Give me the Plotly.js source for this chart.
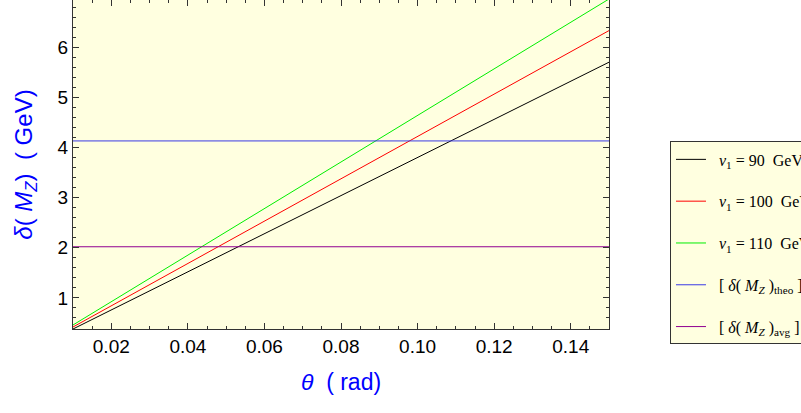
<!DOCTYPE html>
<html>
<head>
<meta charset="utf-8">
<script src="https://cdn.plot.ly/plotly-3.0.1.min.js"></script>
<style>html,body{margin:0;padding:0;background:#fff;}#chart{width:801px;height:413px;}</style>
</head>
<body>
<div id="chart"></div>
<script>
// Data
const theta = [0.01, 0.15];
const v90 = [0.38, 5.70];
const v100 = [0.42, 6.33];
const v110 = [0.46, 6.96];
const dMzTheo = [4.13, 4.13];
const dMzAvg = [2.02, 2.02];
const seriesNames = [
  '&nbsp;&nbsp;<i>v</i><sub>1</sub>&nbsp;=&nbsp;90&nbsp;&nbsp;GeV',
  '&nbsp;&nbsp;<i>v</i><sub>1</sub>&nbsp;=&nbsp;100&nbsp;&nbsp;GeV',
  '&nbsp;&nbsp;<i>v</i><sub>1</sub>&nbsp;=&nbsp;110&nbsp;&nbsp;GeV',
  '&nbsp;&nbsp;[&nbsp;<i>δ</i>(&nbsp;<i>M</i><sub><i>Z</i></sub>&nbsp;)<sub>theo</sub>&nbsp;]',
  '&nbsp;&nbsp;[&nbsp;<i>δ</i>(&nbsp;<i>M</i><sub><i>Z</i></sub>&nbsp;)<sub>avg</sub>&nbsp;]'
];
const seriesY = [v90, v100, v110, dMzTheo, dMzAvg];
const colors = ['#000000', '#ff0000', '#00ee00', '#3a3ae6', '#900090'];

const traces = seriesY.map((y, i) => ({
  x: theta, y: y, mode: 'lines', type: 'scatter',
  name: seriesNames[i], legendgroup: 'g' + i,
  line: {color: colors[i], width: 1}
}));

const axisCommon = {
  showgrid: false, zeroline: false,
  showline: true, linecolor: '#333', linewidth: 1, mirror: 'ticks',
  ticks: 'inside', ticklen: 6, tickcolor: '#333', tickwidth: 1,
  tickfont: {family: 'Liberation Sans, Arial, sans-serif', size: 19, color: '#000'}
};

const layout = {
  width: 801, height: 413,
  margin: {l: 73, r: 192, t: 0, b: 84, autoexpand: false},
  paper_bgcolor: '#ffffff', plot_bgcolor: '#ffffe0',
  showlegend: true,
  xaxis: Object.assign({}, axisCommon, {
    range: [0.01, 0.15], dtick: 0.02, tick0: 0, tickformat: '.2f',
    minor: {dtick: 0.005, ticks: 'inside', ticklen: 3, tickcolor: '#333'},
    title: {text: '<i>θ</i>&nbsp;&nbsp;( rad)', font: {family: 'Liberation Sans, Arial, sans-serif', size: 23, color: '#0000ff'}, standoff: 18}
  }),
  yaxis: Object.assign({}, axisCommon, {
    range: [0.38, 6.94], dtick: 1, tick0: 0,
    minor: {dtick: 0.2, ticks: 'inside', ticklen: 3, tickcolor: '#333'},
    title: {text: '<i>δ</i>(&nbsp;<i>M</i><sub><i>Z</i></sub>)&nbsp;&nbsp;( GeV)', font: {family: 'Liberation Sans, Arial, sans-serif', size: 24, color: '#0000ff'}, standoff: 18}
  }),
  legend: {
    x: 1.1138, y: 0.57, xanchor: 'left', yanchor: 'top',
    bgcolor: '#ffffe0', bordercolor: '#333', borderwidth: 1,
    font: {family: 'Liberation Serif, Times New Roman, serif', size: 16, color: '#000'},
    tracegroupgap: 18, traceorder: 'grouped'
  }
};

Plotly.newPlot('chart', traces, layout, {displayModeBar: false, staticPlot: true});
</script>
</body>
</html>
